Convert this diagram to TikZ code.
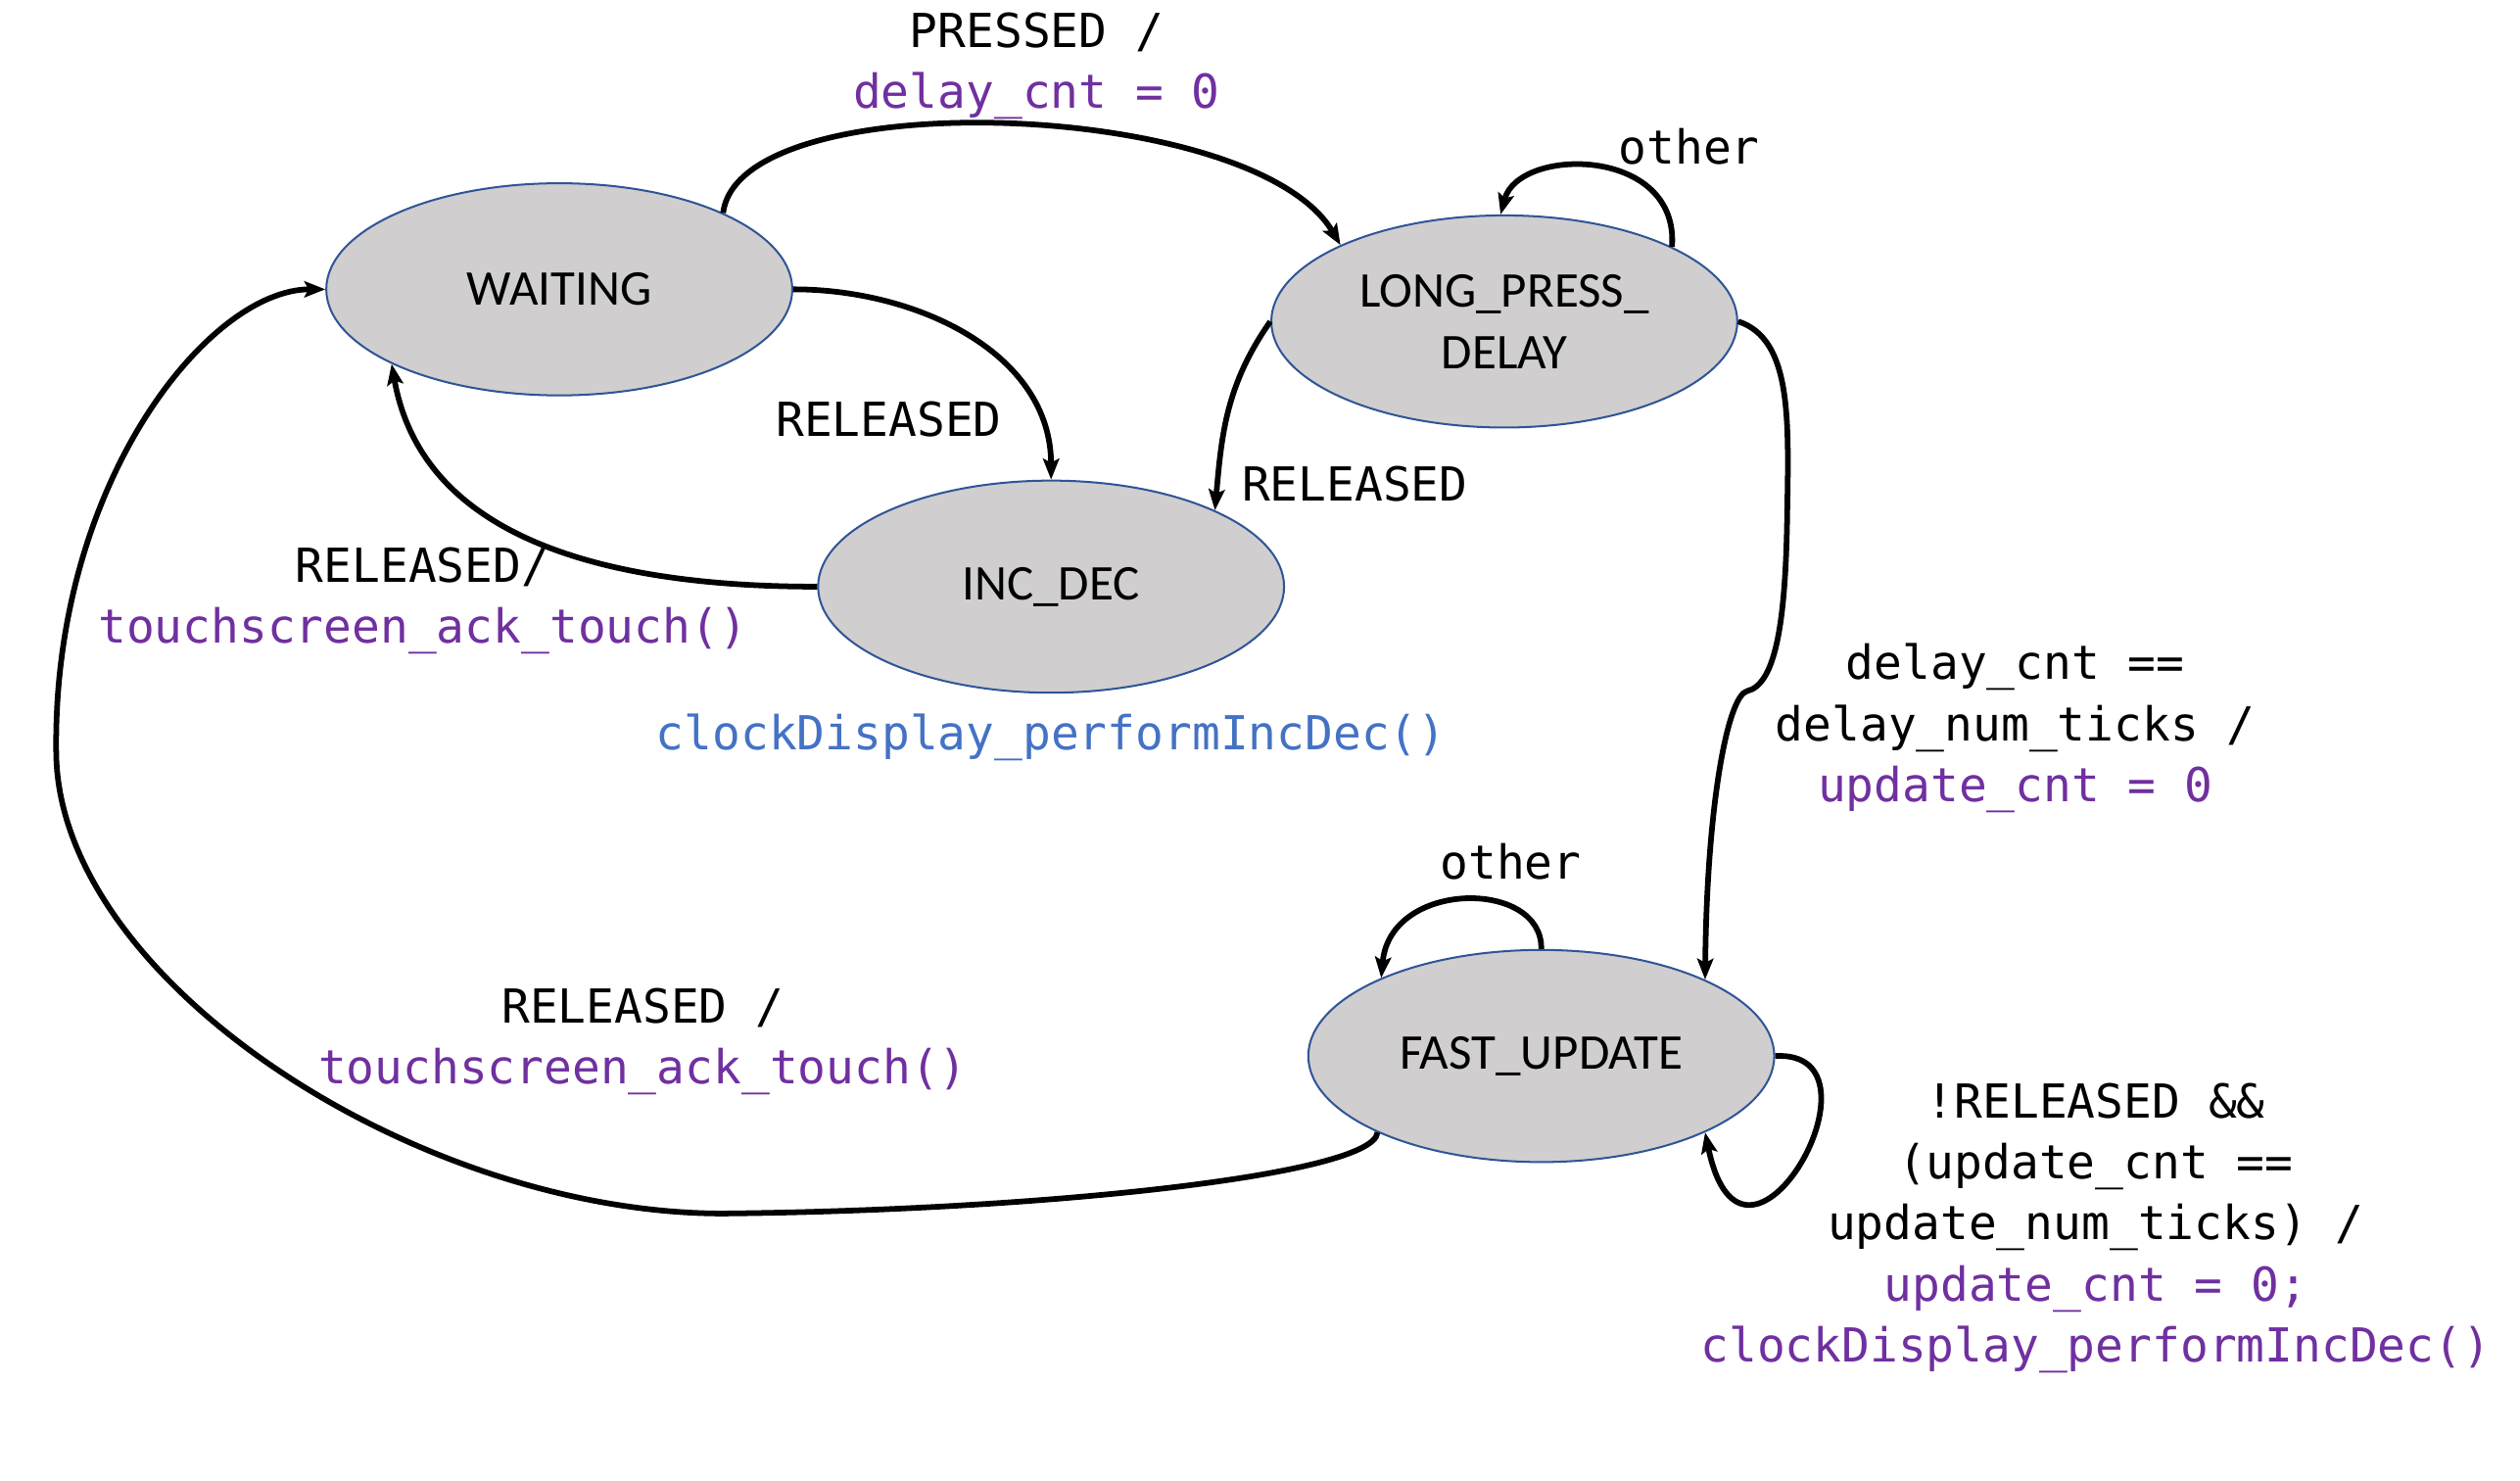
\documentclass[tikz,border=0pt]{standalone}
\usepackage{fontspec}
\setmainfont{Carlito}
\setmonofont{DejaVu Sans Mono}
\usepackage{xcolor}
\usepackage{tikz}
\usetikzlibrary{arrows.meta,shapes.geometric}

\definecolor{statefill}{HTML}{D0CECE}
\definecolor{stateline}{HTML}{2F5597}
\definecolor{actpurple}{HTML}{7030A0}
\definecolor{actblue}{HTML}{4472C4}
\newcommand{\act}[1]{\textcolor{actpurple}{#1}}

\begin{document}
\begin{tikzpicture}[x=0.02cm,y=0.02cm,line width=2pt,
    state/.style={ellipse,draw=stateline,line width=0.7pt,fill=statefill,minimum width=5.8cm,minimum height=2.64cm,inner sep=0pt,align=center,font=\fontsize{17.7}{22}\selectfont},
    trans/.style={-{Stealth[length=2.6mm,width=2mm,inset=0.5mm]}},
    lbl/.style={align=center,inner sep=0pt,font=\fontsize{16.6}{21.6}\selectfont\ttfamily}]
    \useasboundingbox (0,0) rectangle (1568,921);
    \node[state] (waiting) at (348,741) {WAITING};
    \node[state] (longpress) at (936,721) {LONG\_PRESS\_\\DELAY};
    \node[state] (incdec) at (654,556) {INC\_DEC};
    \node[state] (fast) at (959,264) {FAST\_UPDATE};
    \node[lbl] (lPressed) at (645,880) {PRESSED /\\\act{delay\_cnt = 0}};
    \node[lbl] (lRelInc) at (553,660) {RELEASED};
    \node[lbl] (lRelWait) at (263,547) {RELEASED/\\\act{touchscreen\_ack\_touch()}};
    \node[lbl] (lRelLong) at (843,620) {RELEASED};
    \node[lbl] (lOtherLong) at (1051,830) {other};
    \node[lbl,text=actblue] (lIncDec) at (654,462) {clockDisplay\_performIncDec()};
    \node[lbl] (lDelay) at (1254,468) {delay\_cnt ==\\delay\_num\_ticks /\\\act{update\_cnt = 0}};
    \node[lbl] (lOtherFast) at (940,385) {other};
    \node[lbl] (lUpdate) at (1304,157) {!RELEASED \&\&\\(update\_cnt ==\\update\_num\_ticks) /\\\act{update\_cnt = 0;}\\\act{clockDisplay\_performIncDec()}};
    \node[lbl] (lRelFast) at (400,273) {RELEASED /\\\act{touchscreen\_ack\_touch()}};
    \coordinate (kink) at (1087,491);
    \draw[trans] (waiting.25) .. controls (460,870) and (780,860) .. (longpress.155);
    \draw[trans] (waiting.east) to[out=0,in=90] (incdec.north);
    \draw[trans] (incdec.west) to[out=180,in=-80] (waiting.204);
    \draw[trans] (longpress.west) to[out=235,in=85] (incdec.25);
    \draw[trans] (longpress.24) .. controls (1045,830) and (945,830) .. (longpress.92);
    \draw[trans] (longpress.east) .. controls (1115,710) and (1113,660) .. (1112,600) .. controls (1111,530) and (1104,495) .. (kink) .. controls (1075,488) and (1062,420) .. (fast.25);
    \draw[trans] (fast.north) .. controls (960,374) and (865,374) .. (fast.154);
    \draw[trans] (fast.east) .. controls (1180,268) and (1085,100) .. (fast.335);
    \draw[trans] (fast.205) .. controls (855,190) and (650,168) .. (450,166) .. controls (260,166) and (38,310) .. (35,451) .. controls (32,620) and (130,741) .. (waiting.west);
\end{tikzpicture}
\end{document}
